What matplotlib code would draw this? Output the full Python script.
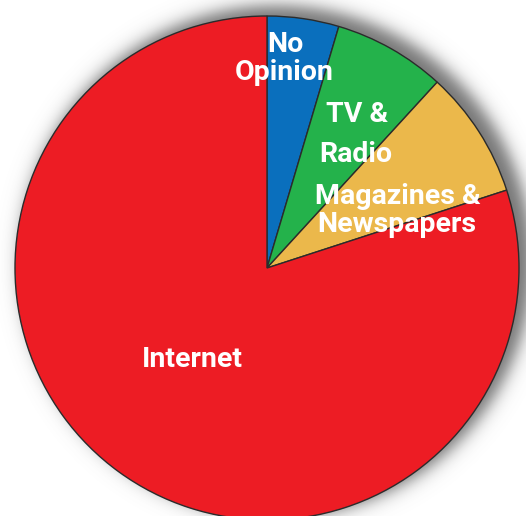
import numpy as np
import matplotlib
matplotlib.use("Agg")
import matplotlib.pyplot as plt

# share of respondents by main news source
categories = ["No Opinion", "TV & Radio", "Magazines & Newspapers", "Internet"]
shares = [4.6, 7.2, 8.2, 80.0]
colors = ["#0a6fbd", "#24b24b", "#ebb84b", "#ed1c24"]

W, H = 526, 516
cx, cy, R = 267, 268, 252

fig = plt.figure(figsize=(W / 100, H / 100), dpi=100)
ax = fig.add_axes([0, 0, 1, 1])

# soft drop shadow behind the pie, pushed up and to the right
yy, xx = np.mgrid[0:H, 0:W]
d = np.hypot(xx - (cx + 9), (H - yy) - (H - cy + 7))
a = 0.85 / (1 + np.exp((d - (R + 4)) / 5.0))
shadow = np.zeros((H, W, 4))
shadow[..., :3] = 0.36
shadow[..., 3] = a
ax.imshow(shadow, extent=(0, W, 0, H), origin="upper", zorder=0)

ax.pie(shares, colors=colors, startangle=90, counterclock=False,
       center=(cx, H - cy), radius=R, frame=True,
       wedgeprops=dict(edgecolor="#2b2b2b", linewidth=1.0, zorder=2))
ax.set_xlim(0, W)
ax.set_ylim(0, H)
ax.set_aspect("equal")
ax.axis("off")

font = dict(color="white", fontsize=20.5, fontweight="bold",
            family=["Roboto", "Liberation Sans", "DejaVu Sans"],
            ha="center", va="baseline", zorder=5)

ax.text(285, H - 52, "No", **font)
ax.text(284, H - 80, "Opinion", **font)
ax.text(357, H - 122, "TV &", **font)
ax.text(356, H - 162, "Radio", **font)
ax.text(398, H - 204, "Magazines &", **font)
ax.text(397, H - 232, "Newspapers", **font)
ax.text(192, H - 367, "Internet", **font)

fig.savefig("out.png", dpi=100)
